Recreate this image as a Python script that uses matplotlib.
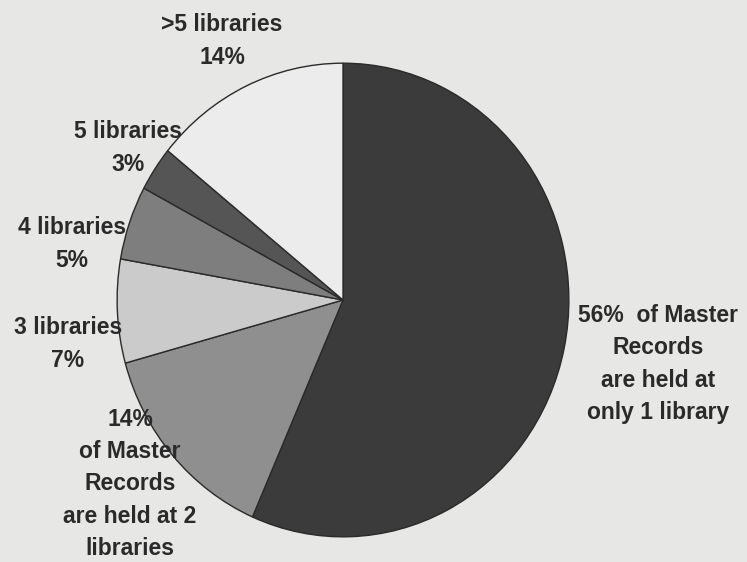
import matplotlib
matplotlib.use("Agg")
import matplotlib.pyplot as plt

# Data (clockwise from 12 o'clock)
categories = ["1 library", "2 libraries", "3 libraries", "4 libraries", "5 libraries", ">5 libraries"]
shares = [56, 14, 7, 5, 3, 14]
colors = ["#3b3b3b", "#8f8f8f", "#cbcbcb", "#7e7e7e", "#555555", "#ececec"]
label_texts = [
    "56%  of Master\nRecords\nare held at\nonly 1 library",
    "14%\nof Master\nRecords\nare held at 2\nlibraries",
    "3 libraries\n7%",
    "4 libraries\n5%",
    "5 libraries\n3%",
    ">5 libraries\n14%",
]

W, H = 747, 562
bg = "#e7e7e5"
fig = plt.figure(figsize=(W / 100, H / 100), dpi=100, facecolor=bg)

# pie (slightly elliptical like the scan)
cx, cy, rx, ry = 343, 300, 227, 238
ax = fig.add_axes([(cx - rx) / W, (H - cy - ry) / H, 2 * rx / W, 2 * ry / H])
ax.set_facecolor(bg)
ax.pie(shares, colors=colors, startangle=90, counterclock=False, radius=1,
       wedgeprops=dict(edgecolor="#2a2a2a", linewidth=1.0))
ax.set_aspect("auto")
ax.set_xlim(-1.005, 1.005)
ax.set_ylim(-1.005, 1.005)
ax.axis("off")

# label positions in pixels (center of text block)
label_pos = [(658, 364), (130, 484), (68, 344), (72, 244), (128, 148), (222, 41)]
for txt, (x, y) in zip(label_texts, label_pos):
    fig.text(x / W, 1 - y / H, txt, ha="center", va="center", fontsize=16.5,
             fontweight="bold", family="Liberation Sans", color="#2a2a2a",
             linespacing=1.52)

fig.savefig("out.png", dpi=100, facecolor=bg)
